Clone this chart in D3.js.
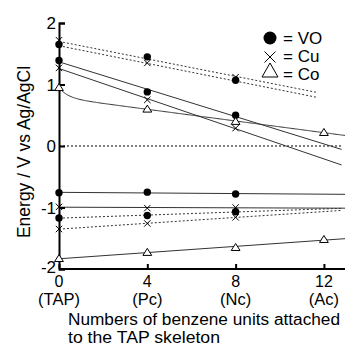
<!DOCTYPE html>
<html><head><meta charset="utf-8">
<script src="https://cdn.jsdelivr.net/npm/d3@7"></script>
<style>body{margin:0;background:#fff}svg{display:block}text{font-family:Arial,"Liberation Sans",sans-serif;fill:#000}</style>
</head><body><div id="chart"></div>
<script>
const xValues = [0, 4, 8, 12];
const xTicks = [0, 4, 8, 12];
const xSubLabels = ["(TAP)", "(Pc)", "(Nc)", "(Ac)"];
const yTicks = [-2, -1, 0, 1, 2];

// VO (filled circle)
const voUpper = [1.65, 1.45, 1.07];
const voMid = [1.39, 0.88, 0.50];
const voLow = [-0.76, -0.75, -0.78];
const voLower = [-1.17, -1.13, -1.07];
// Cu (cross)
const cuUpper = [1.72, 1.35, 1.12];
const cuMid = [1.27, 0.75, 0.29];
const cuLow = [-0.99, -1.01, -1.0];
const cuLower = [-1.35, -1.26, -1.16];
// Co (triangle)
const coUpper = [0.95, 0.60, 0.40, 0.22];
const coLower = [-1.83, -1.73, -1.65, -1.52];

// guide lines for the upper (dotted) levels: [value at 0, value at 11.7]
const voUpperGuide = [1.63, 0.79];
const cuUpperGuide = [1.70, 0.87];

const legendLabels = ["= VO", "= Cu", "= Co"];
const yTitle = "Energy / V vs Ag/AgCl";
const xTitle = ["Numbers of benzene units attached", "to the TAP skeleton"];

const W = 345, H = 347;
const svg = d3.select("#chart").append("svg").attr("width", W).attr("height", H);
const x = d3.scaleLinear().domain([0, 13]).range([59, 346]);
const y = d3.scaleLinear().domain([-2, 2]).range([269, 23]);

function fit(vals) {
  const xs = xValues.slice(0, vals.length);
  const mx = d3.mean(xs), my = d3.mean(vals);
  let num = 0, den = 0;
  xs.forEach((xx, i) => { num += (xx - mx) * (vals[i] - my); den += (xx - mx) ** 2; });
  const b = num / den, a = my - b * mx;
  return xx => a + b * xx;
}
const lineColor = "#333";
function seg(x0, v0, x1, v1, dotted) {
  svg.append("line")
    .attr("x1", x(x0)).attr("y1", y(v0))
    .attr("x2", x(x1)).attr("y2", y(v1))
    .attr("stroke", lineColor).attr("stroke-width", 1)
    .attr("stroke-dasharray", dotted ? "2,2" : null);
}
function fitLine(vals, xEnd, dotted) {
  const f = fit(vals);
  seg(0, f(0), xEnd, f(xEnd), dotted);
}

// zero line
svg.append("line").attr("x1", x(0)).attr("x2", x(12.85)).attr("y1", y(0)).attr("y2", y(0))
  .attr("stroke", "#000").attr("stroke-width", 1.2).attr("stroke-dasharray", "2,2");

seg(0, voUpperGuide[0], 11.7, voUpperGuide[1], true);
seg(0, cuUpperGuide[0], 11.7, cuUpperGuide[1], true);
fitLine(voMid, 12.8, false);
fitLine(cuMid, 12.8, false);
fitLine(voLow, 13, false);
fitLine(cuLow, 13, false);
fitLine(voLower, 12.8, true);
fitLine(cuLower, 12.8, true);
fitLine(coLower, 13, false);

// Co upper: least-squares fit with basis [1, x, exp(-2.5x)]
(function () {
  const basis = xx => [1, xx, Math.exp(-2.5 * xx)];
  const A = [[0,0,0],[0,0,0],[0,0,0]], B = [0,0,0];
  coUpper.forEach((v, i) => {
    const p = basis(xValues[i]);
    for (let r = 0; r < 3; r++) { B[r] += p[r] * v; for (let c = 0; c < 3; c++) A[r][c] += p[r] * p[c]; }
  });
  for (let i = 0; i < 3; i++) {
    for (let k = i + 1; k < 3; k++) {
      const f = A[k][i] / A[i][i];
      for (let c = i; c < 3; c++) A[k][c] -= f * A[i][c];
      B[k] -= f * B[i];
    }
  }
  const coef = [0,0,0];
  for (let i = 2; i >= 0; i--) {
    let s = B[i];
    for (let c = i + 1; c < 3; c++) s -= A[i][c] * coef[c];
    coef[i] = s / A[i][i];
  }
  const f = xx => basis(xx).reduce((s, p, i) => s + p * coef[i], 0);
  const xs = d3.range(0, 13.01, 0.05);
  svg.append("path").datum(xs)
    .attr("d", d3.line().x(d => x(d)).y(d => y(f(d))))
    .attr("fill", "none").attr("stroke", lineColor).attr("stroke-width", 1);
})();

// axes
const yAxis = svg.append("g").attr("transform", `translate(${x(0)},0)`)
  .call(d3.axisRight(y).tickValues(yTicks).tickSize(6).tickFormat(""));
yAxis.select(".domain").attr("stroke-width", 2);
yAxis.selectAll(".tick line").attr("stroke-width", 2);
const xAxis = svg.append("g").attr("transform", `translate(0,${y(-2)})`)
  .call(d3.axisTop(x).tickValues(xTicks).tickSize(5).tickFormat(""));
xAxis.select(".domain").attr("stroke-width", 2).attr("d", `M${x(0)},0H${W}`);
xAxis.selectAll(".tick line").attr("stroke-width", 2);

// y tick labels
yTicks.forEach(t => {
  svg.append("text").attr("x", x(0) - 3).attr("y", y(t) + (t === -2 ? 4 : 6))
    .attr("text-anchor", "end").attr("font-size", 17).text(String(t));
});
// x tick labels
xTicks.forEach((t, i) => {
  svg.append("text").attr("x", x(t)).attr("y", 287).attr("text-anchor", "middle")
    .attr("font-size", 16).text(t);
  svg.append("text").attr("x", x(t)).attr("y", 305).attr("text-anchor", "middle")
    .attr("font-size", 16.5).text(xSubLabels[i]);
});
// titles
svg.append("text").attr("transform", `translate(30,152) rotate(-90)`).attr("text-anchor", "middle")
  .attr("font-size", 17.5).text(yTitle);
svg.append("text").attr("x", 68).attr("y", 325).attr("font-size", 16)
  .attr("textLength", 272).attr("lengthAdjust", "spacingAndGlyphs").text(xTitle[0]);
svg.append("text").attr("x", 68).attr("y", 343).attr("font-size", 16)
  .attr("textLength", 152).attr("lengthAdjust", "spacingAndGlyphs").text(xTitle[1]);

// markers
function circle(cx, cy, r) {
  svg.append("circle").attr("cx", cx).attr("cy", cy).attr("r", r).attr("fill", "#000");
}
function cross(cx, cy, s) {
  svg.append("path").attr("d", `M${cx - s},${cy - s}L${cx + s},${cy + s}M${cx - s},${cy + s}L${cx + s},${cy - s}`)
    .attr("stroke", "#000").attr("stroke-width", 1).attr("fill", "none");
}
function tri(cx, cy, s) {
  svg.append("path").attr("d", `M${cx},${cy - s}L${cx + s * 1.1},${cy + s * 0.75}L${cx - s * 1.1},${cy + s * 0.75}Z`)
    .attr("stroke", "#000").attr("stroke-width", 1).attr("fill", "#fff");
}
[voUpper, voMid, voLow, voLower].forEach(s => s.forEach((v, i) => circle(x(xValues[i]), y(v), 3.7)));
[cuUpper, cuMid, cuLow, cuLower].forEach(s => s.forEach((v, i) => cross(x(xValues[i]), y(v), 3.2)));
[coUpper, coLower].forEach(s => s.forEach((v, i) => tri(x(xValues[i]), y(v), 4)));

// legend
circle(270, 38, 6.5);
cross(270, 57, 5.5);
svg.append("path").attr("d", `M270,63L278,77L262,77Z`).attr("stroke", "#000").attr("fill", "#fff").attr("stroke-width", 1);
legendLabels.forEach((l, i) => {
  svg.append("text").attr("x", 283).attr("y", 44 + i * 18).attr("font-size", 17).text(l);
});
</script></body></html>
